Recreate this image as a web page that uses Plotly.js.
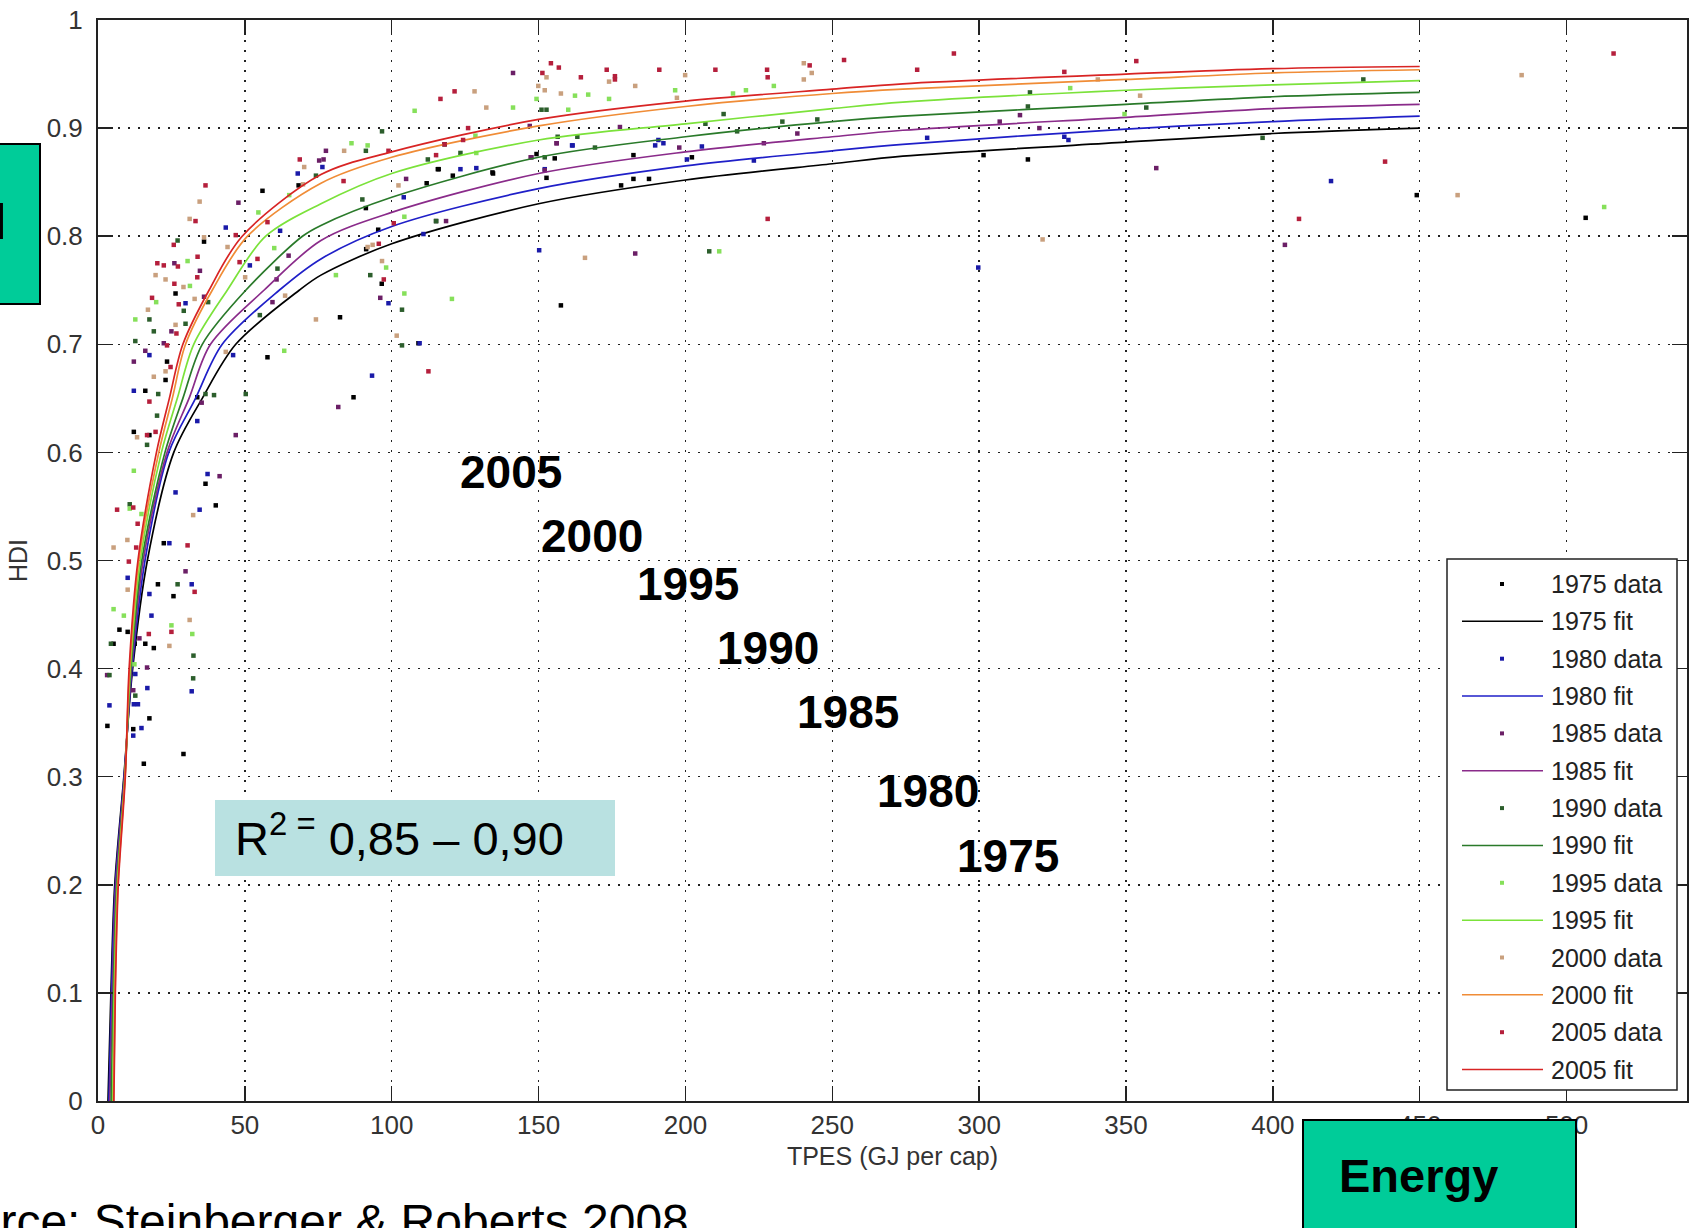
<!DOCTYPE html>
<html><head><meta charset="utf-8">
<script src="https://cdn.plot.ly/plotly-3.0.1.min.js"></script>
<style>html,body{margin:0;padding:0;background:#fff;}#chart{width:1693px;height:1228px;}</style>
</head><body><div id="chart"></div>
<script>
// ---------- DATA ----------
const years = ['1975','1980','1985','1990','1995','2000','2005'];

const data1975X = [3.2,5.3,7.3,10.1,12.0,12.2,12.5,15.6,16.1,16.1,17.5,17.5,19.0,20.4,22.4,23.0,23.5,25.7,26.4,29.1,33.8,36.1,36.6,40.1,56.0,57.7,68.3,82.4,87.0,91.2,91.3,95.4,96.6,109.1,111.9,115.1,115.7,116.0,118.0,120.8,134.3,134.5,149.3,152.7,155.5,157.6,178.1,182.3,182.3,187.6,202.2,301.5,316.6,449.0,506.5];
const data1975Y = [0.347,0.423,0.436,0.434,0.344,0.619,0.423,0.312,0.657,0.423,0.616,0.354,0.419,0.478,0.516,0.667,0.684,0.467,0.747,0.321,0.651,0.795,0.571,0.551,0.842,0.688,0.847,0.725,0.651,0.826,0.788,0.806,0.756,0.701,0.849,0.814,0.862,0.862,0.885,0.856,0.859,0.858,0.876,0.854,0.872,0.736,0.847,0.875,0.853,0.853,0.873,0.875,0.871,0.838,0.817];

const data1980X = [3.9,10.1,12.0,12.2,12.2,12.7,13.6,14.8,16.8,17.5,17.5,18.2,24.3,26.4,29.8,31.9,31.9,33.8,34.6,37.3,43.5,46.0,51.7,62.0,68.0,76.4,93.3,98.9,104.1,109.5,110.8,123.4,128.8,150.2,152.1,161.4,161.6,189.7,190.8,192.5,200.5,205.6,223.3,282.3,299.7,329.0,330.4,419.8];
const data1980Y = [0.366,0.484,0.338,0.367,0.657,0.395,0.367,0.345,0.382,0.690,0.469,0.449,0.516,0.563,0.738,0.478,0.379,0.629,0.547,0.580,0.808,0.690,0.773,0.805,0.858,0.864,0.671,0.738,0.836,0.701,0.802,0.862,0.863,0.787,0.862,0.884,0.884,0.884,0.889,0.886,0.871,0.883,0.870,0.891,0.771,0.892,0.889,0.851];

const data1985X = [3.1,12.0,12.2,14.1,16.1,16.7,22.4,25.0,26.0,29.8,34.7,35.3,36.1,41.4,46.9,47.8,59.4,60.8,64.9,75.3,76.8,77.6,81.8,96.1,104.9,118.5,141.3,147.0,147.3,147.6,152.1,156.1,156.2,177.7,182.9,197.9,226.7,238.1,307.0,313.9,320.5,360.3,404.1];
const data1985Y = [0.394,0.380,0.684,0.428,0.694,0.401,0.701,0.712,0.775,0.490,0.768,0.646,0.744,0.578,0.616,0.831,0.739,0.760,0.782,0.870,0.871,0.879,0.642,0.743,0.853,0.814,0.951,0.902,0.873,0.873,0.861,0.886,0.886,0.901,0.784,0.882,0.886,0.895,0.906,0.912,0.900,0.863,0.792];

const data1990X = [3.9,4.4,10.8,12.7,12.7,16.7,17.5,19.0,20.1,20.5,27.1,27.1,29.2,29.8,32.4,32.5,36.6,37.5,39.5,50.3,55.1,61.1,74.2,90.0,91.2,92.7,96.7,103.5,103.5,112.3,115.1,123.4,151.0,152.1,152.7,156.5,163.2,169.2,206.8,208.1,213.0,217.6,233.0,244.9,316.6,317.3,356.9,396.5,430.8];
const data1990Y = [0.394,0.423,0.552,0.703,0.375,0.607,0.723,0.712,0.634,0.654,0.796,0.478,0.731,0.719,0.391,0.412,0.654,0.739,0.653,0.654,0.727,0.770,0.856,0.834,0.879,0.764,0.897,0.732,0.699,0.871,0.814,0.877,0.917,0.873,0.917,0.892,0.892,0.882,0.904,0.786,0.913,0.897,0.906,0.908,0.920,0.933,0.919,0.891,0.945];

const data1995X = [5.3,8.8,10.8,12.2,12.4,12.7,14.8,19.8,25.0,30.5,31.3,32.1,54.6,60.0,63.4,65.1,81.0,86.3,91.8,98.1,104.3,104.3,107.8,120.5,128.5,128.8,141.3,149.3,160.1,162.4,166.9,174.0,196.5,211.5,216.2,220.6,230.1,331.0,349.5,512.8];
const data1995Y = [0.455,0.449,0.548,0.583,0.404,0.723,0.543,0.739,0.440,0.777,0.754,0.432,0.822,0.789,0.694,0.838,0.764,0.886,0.884,0.771,0.818,0.747,0.916,0.742,0.893,0.877,0.919,0.927,0.917,0.930,0.931,0.927,0.935,0.786,0.932,0.935,0.939,0.937,0.913,0.827];

const data2000X = [5.3,10.0,10.1,13.3,17.0,19.0,19.6,23.0,23.0,24.3,26.4,29.1,31.2,31.2,32.4,32.9,34.6,36.1,43.5,44.1,50.1,63.7,69.8,70.2,74.2,83.8,91.8,93.5,96.7,101.7,102.3,128.2,132.2,149.9,152.1,152.7,157.6,165.8,174.0,182.9,197.1,199.9,240.3,240.3,243.0,321.6,340.4,354.8,462.9,484.7];
const data2000Y = [0.512,0.519,0.473,0.614,0.732,0.670,0.764,0.760,0.675,0.421,0.718,0.753,0.816,0.445,0.542,0.742,0.832,0.799,0.693,0.790,0.762,0.745,0.848,0.864,0.723,0.879,0.790,0.792,0.777,0.708,0.847,0.934,0.919,0.939,0.935,0.947,0.932,0.780,0.943,0.939,0.928,0.949,0.960,0.945,0.951,0.797,0.945,0.930,0.838,0.949];

const data2005X = [6.5,10.5,12.0,13.0,13.5,16.7,17.3,17.5,18.4,19.6,20.2,22.4,23.5,24.7,25.0,25.8,26.0,26.7,27.2,27.5,30.5,32.9,33.2,33.8,33.9,36.6,46.9,48.2,54.3,57.7,68.7,83.6,95.6,97.3,98.9,100.7,112.5,115.1,116.6,118.0,121.4,124.3,126.0,151.3,154.2,156.9,164.4,173.2,176.0,176.0,191.1,210.2,227.8,228.0,228.0,242.3,254.0,278.9,291.4,329.0,353.5,408.9,438.2,516.0];
const data2005Y = [0.547,0.499,0.549,0.512,0.534,0.616,0.432,0.647,0.743,0.619,0.775,0.773,0.699,0.679,0.434,0.792,0.756,0.710,0.772,0.737,0.514,0.471,0.814,0.762,0.781,0.847,0.801,0.776,0.779,0.813,0.871,0.851,0.793,0.760,0.879,0.812,0.675,0.875,0.927,0.885,0.934,0.889,0.900,0.951,0.960,0.956,0.947,0.954,0.948,0.945,0.954,0.954,0.954,0.947,0.816,0.958,0.963,0.954,0.969,0.952,0.962,0.816,0.869,0.969];

const fit1975X = [3.4,4.4,5.7,8.8,11.8,16.8,25.8,35.5,46.9,68.5,75.9,100,150,200,250,274,350,400,450];
const fit1975Y = [0,0.1,0.2,0.3,0.4,0.5,0.6,0.65,0.7,0.75,0.764,0.793,0.830,0.852,0.867,0.874,0.887,0.895,0.900];
const fit1980X = [3.7,4.6,5.9,8.9,11.6,16.0,24.1,33.2,42.3,61.7,75.9,100,150,200,250,274,350,400,450];
const fit1980Y = [0,0.1,0.2,0.3,0.4,0.5,0.6,0.65,0.7,0.75,0.779,0.809,0.844,0.865,0.879,0.885,0.899,0.906,0.911];
const fit1985X = [4.0,4.9,6.1,9.0,11.4,15.4,23.5,31.0,38.3,56.5,75.9,100,150,200,250,274,350,400,450];
const fit1985Y = [0,0.1,0.2,0.3,0.4,0.5,0.6,0.65,0.7,0.75,0.796,0.822,0.858,0.878,0.892,0.898,0.910,0.918,0.922];
const fit1990X = [4.5,5.2,6.4,9.1,11.2,14.9,22.8,28.9,35.5,50.3,69.6,75.9,100,150,200,250,274,350,400,450];
const fit1990Y = [0,0.1,0.2,0.3,0.4,0.5,0.6,0.65,0.7,0.75,0.8,0.810,0.836,0.873,0.892,0.906,0.911,0.922,0.929,0.933];
const fit1995X = [5.0,5.5,6.6,9.2,11.0,14.4,21.6,27.0,32.6,44.0,57.1,75.9,100,150,200,250,274,350,400,450];
const fit1995Y = [0,0.1,0.2,0.3,0.4,0.5,0.6,0.65,0.7,0.75,0.8,0.830,0.858,0.889,0.904,0.918,0.924,0.935,0.940,0.944];
const fit2000X = [5.3,5.8,6.8,9.2,10.8,13.9,20.7,25.3,29.8,38.9,50.9,75.9,100,150,200,250,274,350,400,450];
const fit2000Y = [0,0.1,0.2,0.3,0.4,0.5,0.6,0.65,0.7,0.75,0.8,0.849,0.873,0.902,0.920,0.932,0.936,0.945,0.951,0.954];
const fit2005X = [5.4,5.9,6.9,9.3,10.6,13.6,19.9,24.3,28.9,37.8,49.1,75.9,100,150,200,250,274,350,400,450];
const fit2005Y = [0,0.1,0.2,0.3,0.4,0.5,0.6,0.65,0.7,0.75,0.8,0.857,0.878,0.908,0.925,0.936,0.941,0.950,0.955,0.957];

const dataColors = ['#000000','#1a1aa8','#6b1f66','#2c5e2c','#86e05a','#c9a07e','#b51f3c'];
const fitColors  = ['#000000','#1f1fc8','#8a2b8a','#2a7a2a','#7be23a','#f08c36','#d82424'];

const xTickVals = [0,50,100,150,200,250,300,350,400,450,500];
const yTickVals = [0,0.1,0.2,0.3,0.4,0.5,0.6,0.7,0.8,0.9,1];
const yearLabelText = ['2005','2000','1995','1990','1985','1980','1975'];

// ---------- PIXEL HELPERS (layout only) ----------
const W = 1693, H = 1228;
const PL = 98, PR = 1687, PT = 20, PB = 1101;
const px = v => (v - PL) / (PR - PL);
const py = v => (PB - v) / (PB - PT);

const dataSets = [[data1975X,data1975Y],[data1980X,data1980Y],[data1985X,data1985Y],[data1990X,data1990Y],[data1995X,data1995Y],[data2000X,data2000Y],[data2005X,data2005Y]];
const fitSets = [[fit1975X,fit1975Y],[fit1980X,fit1980Y],[fit1985X,fit1985Y],[fit1990X,fit1990Y],[fit1995X,fit1995Y],[fit2000X,fit2000Y],[fit2005X,fit2005Y]];

const traces = [];
years.forEach((yr, i) => {
  traces.push({
    type: 'scatter', mode: 'markers', name: yr + ' data',
    x: dataSets[i][0], y: dataSets[i][1],
    marker: {symbol: 'square', size: 4.5, color: dataColors[i], line: {width: 0}},
    showlegend: false, cliponaxis: true
  });
  traces.push({
    type: 'scatter', mode: 'lines', name: yr + ' fit',
    x: fitSets[i][0], y: fitSets[i][1],
    line: {color: fitColors[i], width: 1.7, shape: 'spline', smoothing: 0.9},
    showlegend: false
  });
});

const shapes = [];
const annotations = [];
const baseFont = 'Liberation Sans, Arial, sans-serif';

// custom legend box
shapes.push({type:'rect', xref:'paper', yref:'paper', x0:px(1447), x1:px(1677), y0:py(559), y1:py(1090),
  fillcolor:'#ffffff', line:{color:'#222', width:1.5}, layer:'above'});
years.forEach((yr, i) => {
  const yd = 584 + (2*i) * 37.35;
  const yf = 584 + (2*i+1) * 37.35;
  shapes.push({type:'rect', xref:'paper', yref:'paper', x0:px(1500), x1:px(1504), y0:py(yd-2), y1:py(yd+2),
    fillcolor:dataColors[i], line:{width:0}, layer:'above'});
  shapes.push({type:'line', xref:'paper', yref:'paper', x0:px(1462), x1:px(1543), y0:py(yf), y1:py(yf),
    line:{color:fitColors[i], width:1.5}, layer:'above'});
  annotations.push({xref:'paper', yref:'paper', x:px(1549), y:py(yd), xanchor:'left', yanchor:'middle',
    text: yr + ' data', showarrow:false, font:{family:baseFont, size:25, color:'#222'}});
  annotations.push({xref:'paper', yref:'paper', x:px(1549), y:py(yf), xanchor:'left', yanchor:'middle',
    text: yr + ' fit', showarrow:false, font:{family:baseFont, size:25, color:'#222'}});
});

// year labels
const yearPos = [[511.5,471.5],[591.7,535.5],[687.8,584.1],[768.2,647.8],[848.1,711.5],[928,791.4],[1007.9,856.2]];
yearLabelText.forEach((t, i) => {
  annotations.push({xref:'paper', yref:'paper', x:px(yearPos[i][0]), y:py(yearPos[i][1]), xanchor:'center', yanchor:'middle',
    text:t, showarrow:false, font:{family:baseFont, size:46, color:'#000', weight:'bold'}});
});

// R^2 box
shapes.push({type:'rect', xref:'paper', yref:'paper', x0:px(215), x1:px(615), y0:py(800), y1:py(876),
  fillcolor:'#b9e1e1', line:{width:0}, layer:'above'});
annotations.push({xref:'paper', yref:'paper', x:px(233), y:py(835), xanchor:'left', yanchor:'middle',
  text:'R<sup>2 =</sup> 0,85 – 0,90', showarrow:false, font:{family:baseFont, size:47, color:'#000'}});

// Energy box
shapes.push({type:'rect', xref:'paper', yref:'paper', x0:px(1303), x1:px(1576), y0:py(1120), y1:py(1260),
  fillcolor:'#00cc99', line:{color:'#000', width:2}, layer:'above'});
annotations.push({xref:'paper', yref:'paper', x:px(1337), y:py(1175), xanchor:'left', yanchor:'middle',
  text:'Energy', showarrow:false, font:{family:baseFont, size:47, color:'#000', weight:'bold'}});

// left green box (cut off)
shapes.push({type:'rect', xref:'paper', yref:'paper', x0:px(-20), x1:px(40), y0:py(144), y1:py(304),
  fillcolor:'#00cc99', line:{color:'#000', width:2}, layer:'above'});
annotations.push({xref:'paper', yref:'paper', x:px(9), y:py(221), xanchor:'right', yanchor:'middle',
  text:'HDI', showarrow:false, font:{family:baseFont, size:52, color:'#000', weight:'bold'}});

// source text (cut off)
annotations.push({xref:'paper', yref:'paper', x:px(-87), y:py(1221), xanchor:'left', yanchor:'middle',
  text:'Source: Steinberger &amp; Roberts 2008', showarrow:false, font:{family:baseFont, size:48, color:'#000'}});

const axisCommon = {
  showline:true, mirror:'ticks', linecolor:'#222', linewidth:2,
  ticks:'inside', ticklen:15, tickwidth:1.5, tickcolor:'#222',
  showgrid:true, gridcolor:'#222', gridwidth:1.5, griddash:'2px,8px',
  zeroline:false, tickfont:{family:baseFont, size:26, color:'#333'}
};

const layout = {
  width:W, height:H,
  margin:{l:PL, r:W-PR, t:PT, b:H-PB, pad:0},
  paper_bgcolor:'#fff', plot_bgcolor:'#fff',
  showlegend:false,
  xaxis: Object.assign({}, axisCommon, {
    range:[0,541], tickvals:xTickVals, ticktext:xTickVals.map(String), ticklabelstandoff:0,
    title:{text:'TPES (GJ per cap)', font:{family:baseFont, size:25, color:'#333'}, standoff:8}
  }),
  yaxis: Object.assign({}, axisCommon, {
    range:[0,1], tickvals:yTickVals, ticktext:yTickVals.map(String), ticklabelstandoff:8,
    title:{text:'HDI', font:{family:baseFont, size:25, color:'#333'}, standoff:12}
  }),
  shapes:shapes, annotations:annotations
};

Plotly.newPlot('chart', traces, layout, {staticPlot:true, displayModeBar:false});
</script></body></html>
